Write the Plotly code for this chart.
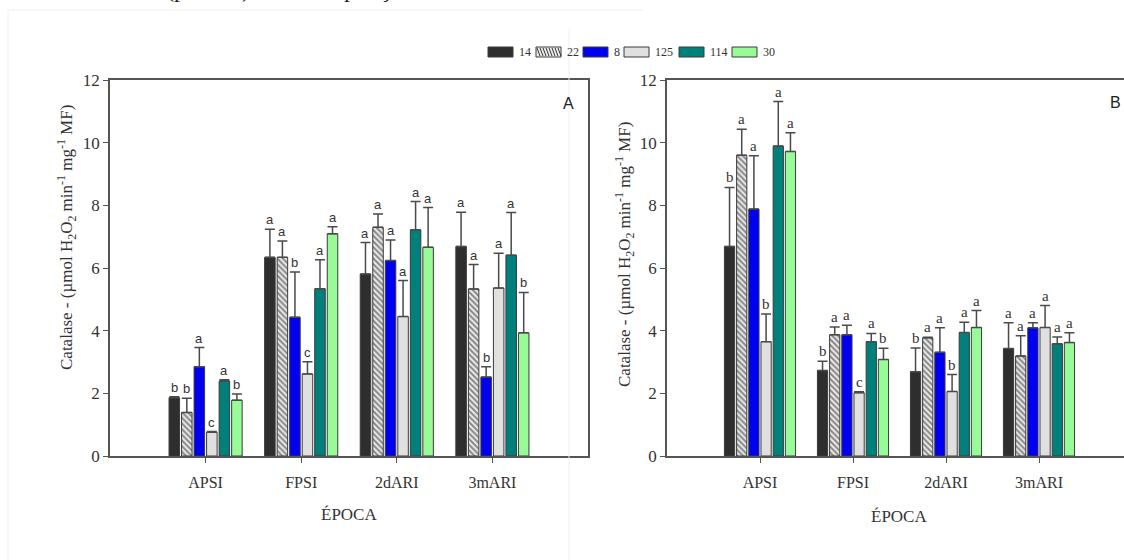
import plotly.graph_objects as go

# ---------------- data ----------------
epocas = ["APSI", "FPSI", "2dARI", "3mARI"]
genotipos = ["14", "22", "8", "125", "114", "30"]

# Panel A
a_14 = [1.86, 6.34, 5.81, 6.69]
a_22 = [1.39, 6.34, 7.30, 5.33]
a_8 = [2.85, 4.43, 6.24, 2.52]
a_125 = [0.76, 2.62, 4.45, 5.36]
a_114 = [2.39, 5.34, 7.22, 6.41]
a_30 = [1.78, 7.09, 6.66, 3.93]

a_err_14 = [0.03, 0.90, 1.00, 1.09]
a_err_22 = [0.45, 0.52, 0.42, 0.78]
a_err_8 = [0.61, 1.44, 0.65, 0.33]
a_err_125 = [0.02, 0.39, 1.15, 1.11]
a_err_114 = [0.04, 0.92, 0.90, 1.36]
a_err_30 = [0.20, 0.23, 1.27, 1.29]

a_let_14 = ["b", "a", "a", "a"]
a_let_22 = ["b", "a", "a", "a"]
a_let_8 = ["a", "b", "a", "b"]
a_let_125 = ["c", "c", "a", "a"]
a_let_114 = ["a", "a", "a", "a"]
a_let_30 = ["b", "a", "a", "b"]

# Panel B
b_14 = [6.69, 2.73, 2.69, 3.43]
b_22 = [9.60, 3.87, 3.77, 3.19]
b_8 = [7.88, 3.87, 3.31, 4.09]
b_125 = [3.65, 2.02, 2.06, 4.10]
b_114 = [9.89, 3.65, 3.94, 3.58]
b_30 = [9.72, 3.08, 4.10, 3.62]

b_err_14 = [1.88, 0.29, 0.76, 0.82]
b_err_22 = [0.83, 0.25, 0.02, 0.65]
b_err_8 = [1.70, 0.30, 0.78, 0.16]
b_err_125 = [0.88, 0.03, 0.54, 0.70]
b_err_114 = [1.42, 0.26, 0.33, 0.22]
b_err_30 = [0.60, 0.36, 0.54, 0.31]

b_let_14 = ["b", "b", "b", "a"]
b_let_22 = ["a", "a", "a", "a"]
b_let_8 = ["a", "a", "a", "a"]
b_let_125 = ["b", "c", "b", "a"]
b_let_114 = ["a", "a", "a", "a"]
b_let_30 = ["a", "b", "a", "a"]

A_means = [a_14, a_22, a_8, a_125, a_114, a_30]
A_errs = [a_err_14, a_err_22, a_err_8, a_err_125, a_err_114, a_err_30]
A_lets = [a_let_14, a_let_22, a_let_8, a_let_125, a_let_114, a_let_30]
B_means = [b_14, b_22, b_8, b_125, b_114, b_30]
B_errs = [b_err_14, b_err_22, b_err_8, b_err_125, b_err_114, b_err_30]
B_lets = [b_let_14, b_let_22, b_let_8, b_let_125, b_let_114, b_let_30]

# ---------------- styles ----------------
colors = ["#2e2e2e", "#ececec", "#0000f0", "#e0e0e0", "#00807a", "#98fb98"]
patterns = ["", "\\", "", "", "", ""]
SERIF = "Liberation Serif, Times New Roman, serif"
SANS = "Liberation Sans, Arial, sans-serif"
LINE = "#555555"
TXT = "#333333"

xpos = list(range(len(epocas)))
slot = 0.131
bw = 0.11
start = -3 * slot

fig = go.Figure()
annotations = []


def add_panel(means, errs, lets, xa, ya, letfont):
    for i, g in enumerate(genotipos):
        off = start + i * slot + (slot - bw) / 2
        fig.add_trace(go.Bar(
            x=xpos, y=means[i], name=g, width=bw, offset=off,
            xaxis=xa, yaxis=ya, showlegend=False,
            marker=dict(color=colors[i], line=dict(color="#3a3a3a", width=1),
                        pattern=dict(shape=patterns[i], fgcolor="#222222",
                                     bgcolor="#ececec", size=4, solidity=0.5)),
            error_y=dict(type="data", symmetric=False, array=errs[i],
                         arrayminus=[0] * len(xpos), color="#4a4a4a",
                         thickness=1.5, width=5),
        ))
        for j, x in enumerate(xpos):
            annotations.append(dict(
                x=x + off + bw / 2, y=means[i][j] + errs[i][j],
                xref=xa, yref=ya, text=lets[i][j], showarrow=False,
                xanchor="center", yanchor="bottom", yshift=0, font=letfont))


add_panel(A_means, A_errs, A_lets, "x", "y",
          dict(family=SANS, size=13, color=TXT))
add_panel(B_means, B_errs, B_lets, "x2", "y2",
          dict(family=SERIF, size=15, color=TXT))

W, H = 1124, 560
axA_x0, axA_x1 = 110 / W, 588 / W
axB_x0 = 667 / W
y0, y1 = 1 - 456 / H, 1 - 80 / H


def px(x):
    return x / W


def py(y):
    return 1 - y / H


common_x = dict(tickmode="array", tickvals=xpos, ticktext=epocas,
                showline=True, linecolor=LINE, linewidth=1.5, ticks="outside",
                ticklen=5, tickcolor=LINE, showgrid=False, zeroline=False,
                ticklabelstandoff=6,
                tickfont=dict(family=SERIF, size=16, color=TXT))
common_y = dict(range=[0, 12], tickmode="array", tickvals=[0, 2, 4, 6, 8, 10, 12],
                showline=True, linecolor=LINE, linewidth=1.5, ticks="outside",
                ticklen=5, tickcolor=LINE, showgrid=False, zeroline=False,
                tickfont=dict(family=SERIF, size=17, color=TXT))

fig.update_layout(
    width=W, height=H, margin=dict(l=0, r=0, t=0, b=0, autoexpand=False),
    paper_bgcolor="white", plot_bgcolor="white", showlegend=False,
    xaxis=dict(domain=[axA_x0, axA_x1], range=[-1, 4], mirror=True, anchor="y", **common_x),
    yaxis=dict(domain=[y0, y1], mirror=True, anchor="x", **common_y),
    xaxis2=dict(domain=[axB_x0, 1.0], range=[-1, 3.914], mirror=True, anchor="y2", **common_x),
    yaxis2=dict(domain=[y0, y1], mirror=False, anchor="x2", **common_y),
)

ytitle = "Catalase - (µmol H<sub>2</sub>O<sub>2</sub> min<sup>-1</sup> mg<sup>-1</sup> MF)"
annotations += [
    dict(text=ytitle, x=px(66), y=py(238), xref="paper", yref="paper", textangle=-90,
         xanchor="center", yanchor="middle", showarrow=False,
         font=dict(family=SERIF, size=17, color=TXT)),
    dict(text=ytitle, x=px(625), y=py(255), xref="paper", yref="paper", textangle=-90,
         xanchor="center", yanchor="middle", showarrow=False,
         font=dict(family=SERIF, size=17, color=TXT)),
    dict(text="ÉPOCA", x=px(349), y=py(514), xref="paper", yref="paper",
         xanchor="center", yanchor="middle", showarrow=False,
         font=dict(family=SERIF, size=17, color=TXT)),
    dict(text="ÉPOCA", x=px(899), y=py(516), xref="paper", yref="paper",
         xanchor="center", yanchor="middle", showarrow=False,
         font=dict(family=SERIF, size=17, color=TXT)),
    dict(text="A", x=px(568), y=py(103), xref="paper", yref="paper",
         xanchor="center", yanchor="middle", showarrow=False,
         font=dict(family=SANS, size=16, color="#222222")),
    dict(text="B", x=px(1115), y=py(102), xref="paper", yref="paper",
         xanchor="center", yanchor="middle", showarrow=False,
         font=dict(family=SANS, size=16, color="#222222")),
    dict(text="(plantas) de três repetições.", x=px(164), y=py(4), xref="paper", yref="paper",
         xanchor="left", yanchor="bottom", showarrow=False,
         font=dict(family=SERIF, size=24, color="#222222")),
]

# ---------------- legend (drawn as a key row) ----------------
leg_x = [488, 536, 583, 624, 679, 732]
sw_w, sw_h, leg_y = 25, 10, 52
shapes = []
for i, g in enumerate(genotipos):
    x0 = leg_x[i]
    shapes.append(dict(type="rect", xref="paper", yref="paper",
                       x0=px(x0), x1=px(x0 + sw_w), y0=py(leg_y + sw_h / 2), y1=py(leg_y - sw_h / 2),
                       fillcolor=colors[i], line=dict(color="#3a3a3a", width=1)))
    if patterns[i]:
        for k in range(0, sw_w - 3, 3):
            shapes.append(dict(type="line", xref="paper", yref="paper",
                               x0=px(x0 + k + 1), x1=px(x0 + k + 4),
                               y0=py(leg_y - sw_h / 2 + 1), y1=py(leg_y + sw_h / 2 - 1),
                               line=dict(color="#333333", width=1)))
    annotations.append(dict(text=g, x=px(x0 + sw_w + 4), y=py(leg_y), xref="paper", yref="paper",
                            xanchor="left", yanchor="middle", showarrow=False,
                            font=dict(family=SERIF, size=12, color=TXT)))

# faint page borders of the original scanned figure
shapes += [
    dict(type="line", xref="paper", yref="paper", x0=px(8), x1=px(643), y0=py(10), y1=py(10),
         line=dict(color="#f0f0f0", width=1)),
    dict(type="line", xref="paper", yref="paper", x0=px(8), x1=px(8), y0=0, y1=py(10),
         line=dict(color="#f3f3f3", width=1)),
    dict(type="line", xref="paper", yref="paper", x0=px(569), x1=px(569), y0=0, y1=py(28),
         line=dict(color="#f0f0f0", width=1)),
]

fig.update_layout(annotations=annotations, shapes=shapes)
fig.write_html("out.html")
